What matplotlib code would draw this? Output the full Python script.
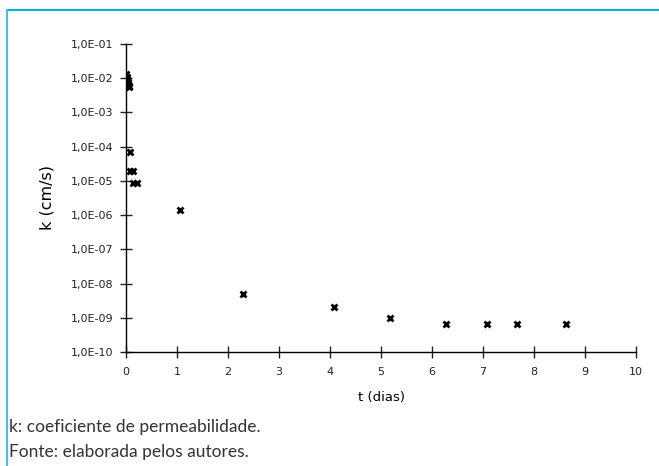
import numpy as np
import matplotlib.pyplot as plt
from matplotlib.ticker import FixedLocator, NullLocator
from matplotlib.lines import Line2D

# data (t in days, k in cm/s)
t_dias = [0.00, 0.01, 0.02, 0.02, 0.03, 0.04, 0.04, 0.05, 0.06,
          0.08, 0.08, 0.13, 0.14, 0.22,
          1.05, 2.30, 4.08, 5.18, 6.27, 7.08, 7.67, 8.63]
k_cms = [1.3e-2, 1.1e-2, 9.5e-3, 8.5e-3, 7.5e-3, 7.0e-3, 6.5e-3, 6.0e-3, 5.5e-3,
         7.0e-5, 1.9e-5, 1.9e-5, 8.7e-6, 8.7e-6,
         1.4e-6, 4.9e-9, 2.0e-9, 1.0e-9, 6.6e-10, 6.6e-10, 6.6e-10, 6.6e-10]

y_ticks = [10.0 ** e for e in range(-10, 0)]
y_labels = ['1,0E-%02d' % -e for e in range(-10, 0)]
x_ticks = list(range(0, 11))

fig = plt.figure(figsize=(6.59, 4.66), dpi=100)
ax = fig.add_axes([126 / 659, 1 - 352 / 466, 510 / 659, 308 / 466])

ax.plot(t_dias, k_cms, linestyle='none', marker='x', color='black',
        markersize=5, markeredgewidth=2)

ax.set_yscale('log')
ax.set_ylim(1e-10, 1e-1)
ax.set_xlim(0, 10)
ax.yaxis.set_major_locator(FixedLocator(y_ticks))
ax.yaxis.set_minor_locator(NullLocator())
ax.set_yticklabels(y_labels)
ax.set_xticks(x_ticks)

for s in ['top', 'right']:
    ax.spines[s].set_visible(False)
for s in ['left', 'bottom']:
    ax.spines[s].set_linewidth(1.0)
    ax.spines[s].set_color('black')
ax.tick_params(direction='inout', length=8, width=1, labelsize=8,
               colors='#222222', pad=5)
ax.tick_params(axis='x', pad=7)

ax.set_xlabel('t (dias)', fontsize=9.5)
ax.xaxis.set_label_coords(0.5, -0.125)
ax.set_ylabel('k (cm/s)', fontsize=11.5)
ax.yaxis.set_label_coords(-0.141, 0.5)

# frame lines
fig.add_artist(Line2D([7 / 659, 1], [1 - 10 / 466, 1 - 10 / 466],
                      transform=fig.transFigure, color='#00aee8', linewidth=1.5))
fig.add_artist(Line2D([7 / 659, 7 / 659], [0, 1 - 10 / 466],
                      transform=fig.transFigure, color='#4cbfe0', linewidth=1.5))

fig.text(9 / 659, 1 - 427 / 466, 'k: coeficiente de permeabilidade.',
         fontsize=12.5, family='Lato', va='center', color='#333333')
fig.text(9 / 659, 1 - 452 / 466, 'Fonte: elaborada pelos autores.',
         fontsize=12.5, family='Lato', va='center', color='#333333')

fig.savefig('out.png', dpi=100)
